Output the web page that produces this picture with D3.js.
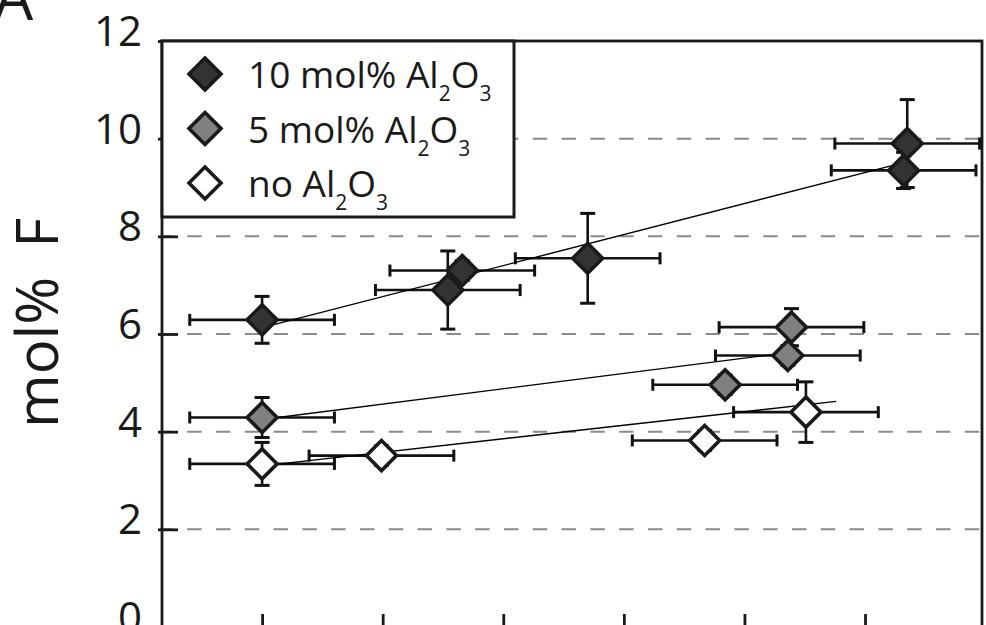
<!DOCTYPE html>
<html>
<head>
<meta charset="utf-8">
<script src="https://cdn.jsdelivr.net/npm/d3@7"></script>
<style>
  body { margin:0; background:#fff; }
  svg { display:block; font-family:"Open Sans", "Noto Sans", sans-serif; }
</style>
</head>
<body>
<svg></svg>
<script>
// values (x in tick units, y in mol% F)
var al10X    = [1.00, 2.54, 2.66, 3.70, 6.32, 6.35]
var al10Y    = [6.29, 6.90, 7.30, 7.55, 9.35, 9.90]
var al10YErr = [0.48, 0.80, 0.20, 0.92, 0.37, 0.90]

var al5X    = [1.00, 4.84, 5.36, 5.39]
var al5Y    = [4.29, 4.96, 5.56, 6.14]
var al5YErr = [0.41, 0.20, 0.20, 0.38]

var noX    = [1.00, 1.99, 4.67, 5.51]
var noY    = [3.34, 3.51, 3.82, 4.40]
var noYErr = [0.44, 0.20, 0.20, 0.62]

var xErr = 0.6

// fitted lines, end points
var trend10 = [[1.0, 6.13], [6.32, 9.51]]
var trend5  = [[1.0, 4.25], [5.36, 5.62]]
var trendNo = [[1.0, 3.30], [5.76, 4.62]]

var yTicks = [0, 2, 4, 6, 8, 10, 12]
var xTicks = [1, 2, 3, 4, 5, 6]
var gridValues = [2, 4, 6, 8, 10]

var legendLabels = ["10 mol% Al", "5 mol% Al", "no Al"]
var fills = ["#333333", "#808080", "#ffffff"]

var screen = {width:986, height:625}
var plot = {left:162, right:982, top:41, bottom:627}

var setup = function()
{
    var svg = d3.select("svg")
        .attr("width", screen.width)
        .attr("height", screen.height)

    var xScale = d3.scaleLinear()
        .domain([0.17, 6.97])
        .range([plot.left, plot.right])

    var yScale = d3.scaleLinear()
        .domain([0, 12])
        .range([plot.bottom, plot.top])

    // dashed grid
    svg.append("g")
        .selectAll("line")
        .data(gridValues)
        .enter()
        .append("line")
        .attr("x1", plot.left)
        .attr("x2", plot.right)
        .attr("y1", function(d){ return yScale(d) })
        .attr("y2", function(d){ return yScale(d) })
        .attr("stroke", "#8a8a8a")
        .attr("stroke-width", 2)
        .attr("stroke-dasharray", "14.4,14.4")
        .attr("stroke-dashoffset", 3.6)

    // frame
    svg.append("rect")
        .attr("x", plot.left)
        .attr("y", plot.top)
        .attr("width", plot.right - plot.left)
        .attr("height", plot.bottom - plot.top)
        .attr("fill", "none")
        .attr("stroke", "#1a1a1a")
        .attr("stroke-width", 2.8)

    var yAxis = d3.axisLeft(yScale)
        .tickValues(yTicks)
        .tickSize(-16)
        .tickPadding(0)
    var yG = svg.append("g")
        .attr("transform", "translate(" + plot.left + ",0)")
        .call(yAxis)
    yG.select(".domain").remove()
    yG.selectAll(".tick line")
        .attr("x1", -4)
        .attr("stroke", "#1a1a1a")
        .attr("stroke-width", 2.8)
    yG.selectAll(".tick text")
        .attr("x", -20)
        .attr("dy", null)
        .attr("y", 4.5)
        .attr("font-size", 42)
        .attr("font-family", "Open Sans")
        .attr("fill", "#1a1a1a")

    var xAxis = d3.axisBottom(xScale)
        .tickValues(xTicks)
        .tickSize(-13)
        .tickFormat("")
    var xG = svg.append("g")
        .attr("transform", "translate(0," + plot.bottom + ")")
        .call(xAxis)
    xG.select(".domain").remove()
    xG.selectAll(".tick line")
        .attr("stroke", "#1a1a1a")
        .attr("stroke-width", 2.8)

    var groups = [
        {x:al10X, y:al10Y, e:al10YErr, fill:fills[0], trend:trend10},
        {x:al5X,  y:al5Y,  e:al5YErr,  fill:fills[1], trend:trend5},
        {x:noX,   y:noY,   e:noYErr,   fill:fills[2], trend:trendNo}
    ]

    groups.forEach(function(g){ drawErrors(svg, g, xScale, yScale) })
    groups.forEach(function(g){ drawTrend(svg, g, xScale, yScale) })
    groups.forEach(function(g){ drawPoints(svg, g, xScale, yScale) })

    drawLegend(svg)

    // axis title
    svg.append("text")
        .attr("transform", "translate(58,323) rotate(-90)")
        .attr("text-anchor", "middle")
        .attr("font-size", 58)
        .attr("fill", "#1a1a1a")
        .text("mol%\u2002F")

    // panel letter
    svg.append("text")
        .attr("x", -6)
        .attr("y", 20)
        .attr("font-size", 62)
        .attr("fill", "#1a1a1a")
        .text("A")
}

var diamond = function(r)
{
    return "M0," + (-r) + "L" + r + ",0L0," + r + "L" + (-r) + ",0Z"
}

var drawErrors = function(svg, g, xScale, yScale)
{
    var layer = svg.append("g")
        .attr("stroke", "#111")
        .attr("stroke-width", 2.6)
        .attr("fill", "none")

    g.x.forEach(function(xv, i)
    {
        var cx = xScale(xv), cy = yScale(g.y[i])
        var x0 = xScale(xv - xErr), x1 = xScale(xv + xErr)
        var y0 = yScale(g.y[i] - g.e[i]), y1 = yScale(g.y[i] + g.e[i])
        layer.append("line").attr("x1", x0).attr("x2", x1).attr("y1", cy).attr("y2", cy)
        layer.append("line").attr("x1", x0).attr("x2", x0).attr("y1", cy - 6).attr("y2", cy + 6).attr("stroke-width", 3)
        layer.append("line").attr("x1", x1).attr("x2", x1).attr("y1", cy - 6).attr("y2", cy + 6).attr("stroke-width", 3)
        layer.append("line").attr("x1", cx).attr("x2", cx).attr("y1", y0).attr("y2", y1)
        layer.append("line").attr("x1", cx - 7.5).attr("x2", cx + 7.5).attr("y1", y0).attr("y2", y0).attr("stroke-width", 3)
        layer.append("line").attr("x1", cx - 7.5).attr("x2", cx + 7.5).attr("y1", y1).attr("y2", y1).attr("stroke-width", 3)
    })
}

var drawTrend = function(svg, g, xScale, yScale)
{
    var linegenerator = d3.line()
        .x(function(p){ return xScale(p[0]) })
        .y(function(p){ return yScale(p[1]) })

    svg.append("path")
        .datum(g.trend)
        .attr("d", linegenerator)
        .attr("fill", "none")
        .attr("stroke", "#000")
        .attr("stroke-width", 1.4)
}

var drawPoints = function(svg, g, xScale, yScale)
{
    svg.append("g")
        .selectAll("path")
        .data(g.x)
        .enter()
        .append("path")
        .attr("d", diamond(15))
        .attr("transform", function(xv, i)
        {
            return "translate(" + xScale(xv) + "," + yScale(g.y[i]) + ")"
        })
        .attr("fill", g.fill)
        .attr("stroke", "#1a1a1a")
        .attr("stroke-width", 3.6)
        .attr("stroke-linejoin", "miter")
}

var drawLegend = function(svg)
{
    var box = svg.append("g")

    box.append("rect")
        .attr("x", plot.left)
        .attr("y", plot.top)
        .attr("width", 352)
        .attr("height", 176)
        .attr("fill", "#fff")
        .attr("stroke", "#1a1a1a")
        .attr("stroke-width", 3)

    var rows = box.selectAll("g.row")
        .data(legendLabels)
        .enter()
        .append("g")
        .attr("class", "row")
        .attr("transform", function(d, i){ return "translate(205," + (74 + i * 54.5) + ")" })

    rows.append("path")
        .attr("d", diamond(16))
        .attr("fill", function(d, i){ return fills[i] })
        .attr("stroke", "#1a1a1a")
        .attr("stroke-width", 3.6)

    var label = rows.append("text")
        .attr("x", 43)
        .attr("y", 14)
        .attr("font-size", 37)
        .attr("fill", "#1a1a1a")

    label.append("tspan").text(function(d){ return d })
    label.append("tspan").attr("dy", 13).attr("font-size", 21).text("2")
    label.append("tspan").attr("dy", -13).text("O")
    label.append("tspan").attr("dy", 13).attr("font-size", 21).text("3")
}

setup()
</script>
</body>
</html>
